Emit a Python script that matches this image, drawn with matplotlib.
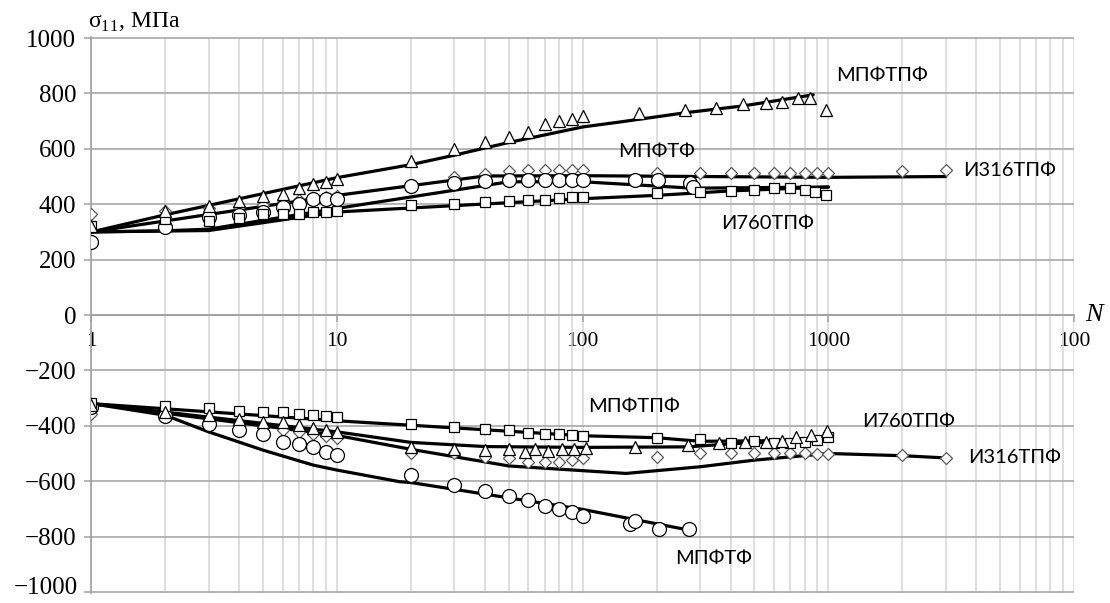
import matplotlib
matplotlib.use("Agg")
import matplotlib.pyplot as plt
from matplotlib.ticker import LogLocator, NullFormatter

plt.rcParams["font.family"] = ["Liberation Serif", "DejaVu Serif"]
plt.rcParams["mathtext.fontset"] = "custom"
plt.rcParams["mathtext.rm"] = "Liberation Serif"

# --- растяжение (верхняя часть) ---
tri_up_x = [1, 2, 3, 4, 5, 6, 7, 8, 9, 10, 20, 30, 40, 50, 60, 70, 80, 90, 100,
            170, 260, 350, 450, 555, 650, 750, 840, 980]
tri_up_y = [320, 375, 392, 410, 431, 438, 457, 472, 481, 492, 555, 599, 623, 644, 662, 688, 702, 707, 718,
            731, 739, 749, 761, 767, 770, 784, 784, 739]
dia_up_x = [1, 2, 3, 4, 5, 6, 7, 8, 9, 10, 20, 30, 40, 50, 60, 70, 80, 90, 100,
            200, 300, 400, 500, 600, 700, 800, 900, 1000, 2000, 3000]
dia_up_y = [363, 375, 385, 390, 396, 409, 417, 424, 427, 429, 471, 497, 508, 521, 525, 525, 525, 525, 525,
            514, 511, 511, 511, 511, 511, 511, 511, 511, 519, 523]
circ_up_x = [1, 2, 3, 4, 5, 6, 7, 8, 9, 10, 20, 30, 40, 50, 60, 70, 80, 90, 100, 163, 203, 274, 280]
circ_up_y = [262, 316, 355, 362, 373, 391, 402, 420, 420, 420, 464, 475, 483, 487, 487, 487, 487, 487, 487,
             487, 487, 475, 463]
sq_up_x = [1, 2, 3, 4, 5, 6, 7, 8, 9, 10, 20, 30, 40, 50, 60, 70, 80, 90, 100,
           200, 300, 400, 500, 600, 700, 800, 880, 975]
sq_up_y = [323, 348, 340, 352, 365, 366, 366, 373, 373, 377, 396, 402, 408, 411, 415, 417, 424, 427, 427,
           439, 445, 448, 453, 457, 457, 453, 445, 435]

# аппроксимирующие кривые (растяжение)
tri_up_fit_x = [1, 2, 10, 20, 30, 50, 100, 142, 260, 450, 867]
tri_up_fit_y = [300, 362, 496, 543, 577, 623, 679, 697, 730, 755, 795]
dia_up_fit_x = [1, 10, 40, 100, 1000, 3000]
dia_up_fit_y = [300, 432, 502, 503, 497, 500]
circ_up_fit_x = [1, 2, 3, 10, 50, 100, 280, 1000]
circ_up_fit_y = [300, 304, 310, 385, 481, 481, 458, 462]
sq_up_fit_x = [1, 3, 10, 100, 200, 400, 1000]
sq_up_fit_y = [300, 305, 372, 420, 432, 448, 462]

# --- сжатие (нижняя часть) ---
sq_lo_x = [1, 2, 3, 4, 5, 6, 7, 8, 9, 10, 20, 30, 40, 50, 60, 70, 80, 90, 100,
           200, 300, 400, 500, 600, 700, 800, 900, 1000]
sq_lo_y = [-316, -329, -334, -346, -350, -350, -356, -362, -365, -368, -394, -404, -412, -417, -427, -430,
           -430, -434, -436, -443, -446, -461, -454, -461, -461, -458, -452, -440]
tri_lo_x = [1, 2, 3, 4, 5, 6, 7, 8, 9, 10, 20, 30, 40, 50, 58, 64, 72, 82, 92, 103,
            163, 269, 360, 458, 556, 650, 740, 850, 990]
tri_lo_y = [-325, -349, -362, -376, -386, -388, -398, -407, -416, -424, -476, -482, -486, -484, -496, -482,
            -490, -484, -482, -479, -476, -470, -461, -458, -458, -456, -442, -434, -418]
dia_lo_x = [1, 2, 3, 4, 5, 6, 7, 8, 9, 10, 20, 30, 40, 50, 60, 70, 80, 90, 100,
            200, 300, 400, 500, 600, 700, 800, 900, 1000, 2000, 3000]
dia_lo_y = [-356, -360, -395, -407, -424, -416, -424, -431, -436, -443, -497, -500, -514, -518, -530, -532,
            -532, -524, -518, -512, -500, -497, -497, -497, -497, -497, -503, -503, -506, -516]
circ_lo_x = [1, 2, 3, 4, 5, 6, 7, 8, 9, 10, 20, 30, 40, 50, 60, 70, 80, 90, 100, 156, 163, 205, 272]
circ_lo_y = [-331, -364, -394, -416, -431, -458, -466, -478, -494, -506, -576, -614, -636, -653, -668,
             -690, -701, -713, -725, -753, -744, -773, -773]

sq_lo_fit_x = [1, 10, 20, 100, 200, 300, 1000]
sq_lo_fit_y = [-320, -382, -398, -436, -443, -456, -452]
tri_lo_fit_x = [1, 10, 20, 40, 100, 270, 400, 1000]
tri_lo_fit_y = [-320, -422, -460, -475, -478, -476, -465, -452]
dia_lo_fit_x = [1, 10, 20, 50, 150, 300, 500, 1000, 2000, 3000]
dia_lo_fit_y = [-320, -435, -485, -545, -572, -548, -524, -500, -508, -516]
circ_lo_fit_x = [1, 2, 3, 5, 8, 10, 18, 20, 100, 272]
circ_lo_fit_y = [-320, -362, -422, -488, -542, -560, -602, -605, -702, -777]

y_ticks = list(range(-1000, 1001, 200))
y_labels = [str(v).replace("-", "\u2212") for v in y_ticks]

fig = plt.figure(figsize=(11.1, 6.03), dpi=100)
ax = fig.add_axes([0.0824, 0.0160, 0.8852, 0.9232])
ax.set_xscale("log")
ax.set_xlim(1, 10000)
ax.set_ylim(-1005, 1005)  # небольшой запас, чтобы крайние линии сетки не обрезались

# сетка
ax.xaxis.set_minor_locator(LogLocator(base=10, subs=range(2, 10)))
ax.xaxis.set_minor_formatter(NullFormatter())
ax.grid(True, axis="x", which="both", color="#d6d6d6", lw=1.1, zorder=0)
ax.grid(True, axis="y", which="major", color="#a8a8a8", lw=1.2, zorder=0)
ax.set_yticks(y_ticks)
# подпись −1000 рисуем отдельно, чуть выше, чтобы не обрезалась краем
ax.set_yticklabels([""] + y_labels[1:])
ax.text(-0.0135, y_ticks[0] + 14, y_labels[0], transform=ax.get_yaxis_transform(),
        fontsize=18, ha="right", va="center")
ax.tick_params(axis="y", length=5, width=1.2, color="#a8a8a8", labelsize=18, pad=6)
ax.set_xticks([1, 10, 100, 1000, 10000], labels=["1", "10", "100", "1000", "100"])
ax.tick_params(axis="x", which="major", length=5, width=1.2, color="#a8a8a8", labelsize=15.5, pad=7)
ax.tick_params(axis="x", which="minor", length=0)
ax.get_xticklabels()[-1].set_horizontalalignment("right")

ax.spines["bottom"].set_position(("data", 0))
ax.spines["bottom"].set_color("#a0a0a0")
ax.spines["left"].set_color("#a0a0a0")
ax.spines["top"].set_visible(False)
ax.spines["right"].set_visible(False)
for s in ("bottom", "left"):
    ax.spines[s].set_linewidth(1.2)

# кривые
fits = [
    (tri_up_fit_x, tri_up_fit_y), (dia_up_fit_x, dia_up_fit_y),
    (circ_up_fit_x, circ_up_fit_y), (sq_up_fit_x, sq_up_fit_y),
    (sq_lo_fit_x, sq_lo_fit_y), (tri_lo_fit_x, tri_lo_fit_y),
    (dia_lo_fit_x, dia_lo_fit_y), (circ_lo_fit_x, circ_lo_fit_y),
]
for fx, fy in fits:
    ax.plot(fx, fy, color="black", lw=2.3, zorder=3, solid_capstyle="round")

# точки
mk = dict(ls="none", mfc="white", zorder=4)
ax.plot(dia_up_x, dia_up_y, marker="D", ms=6, mec="#5a5a5a", mew=0.9, **mk)
ax.plot(dia_lo_x, dia_lo_y, marker="D", ms=6, mec="#5a5a5a", mew=0.9, **mk)
ax.plot(circ_up_x, circ_up_y, marker="o", ms=10, mec="black", mew=0.9, **mk)
ax.plot(circ_lo_x, circ_lo_y, marker="o", ms=10, mec="black", mew=0.9, **mk)
ax.plot(sq_up_x, sq_up_y, marker="s", ms=7, mec="black", mew=0.9, **mk)
ax.plot(sq_lo_x, sq_lo_y, marker="s", ms=7, mec="black", mew=0.9, **mk)
ax.plot(tri_up_x, tri_up_y, marker="^", ms=8.5, mec="black", mew=0.9, **mk)
ax.plot(tri_lo_x, tri_lo_y, marker="^", ms=8.5, mec="black", mew=0.9, **mk)

# подписи серий
lab = dict(family=["Lato", "DejaVu Sans"], fontsize=14.5, ha="left", va="center", zorder=5)
ax.text(1075, 865, "МПФТПФ", **lab)
ax.text(139, 590, "МПФТФ", **lab)
ax.text(3535, 522, "И316ТПФ", **lab)
ax.text(366, 330, "И760ТПФ", **lab)
ax.text(105, -330, "МПФТПФ", **lab)
ax.text(1371, -384, "И760ТПФ", **lab)
ax.text(3705, -514, "И316ТПФ", **lab)
ax.text(238, -879, "МПФТФ", **lab)

fig.text(0.079, 0.9635, r"$\mathrm{σ}_{11}$, МПа", fontsize=17, ha="left", va="center")
fig.text(0.9856, 0.4776, "N", fontsize=19, style="italic", ha="center", va="center")

fig.savefig("out.png", dpi=100)
